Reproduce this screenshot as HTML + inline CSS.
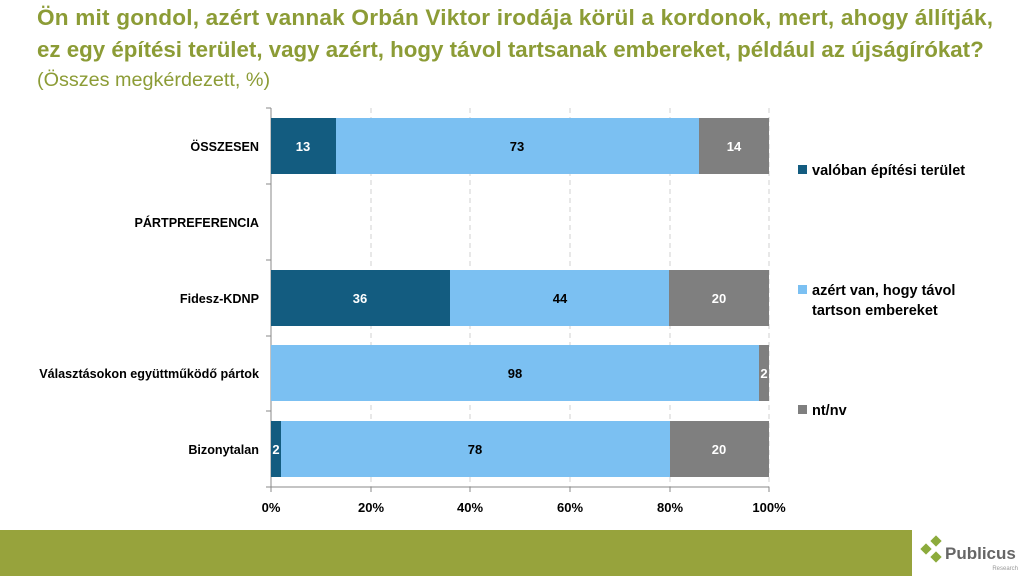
<!DOCTYPE html>
<html><head><meta charset="utf-8"><style>
body{margin:0;width:1024px;height:576px;background:#fff;overflow:hidden;position:relative;font-family:"Liberation Sans",Calibri,sans-serif}
.t{position:absolute;left:37px;color:#8c9c36;font-weight:bold;font-size:22.6px;white-space:nowrap}
</style></head><body>
<div class="t" style="top:5px;letter-spacing:0.2px">Ön mit gondol, azért vannak Orbán Viktor irodája körül a kordonok, mert, ahogy állítják,</div>
<div class="t" style="top:37px;font-size:22.3px">ez egy építési terület, vagy azért, hogy távol tartsanak embereket, például az újságírókat?</div>
<div class="t" style="top:69px;font-weight:normal;font-size:19.8px">(Összes megkérdezett, %)</div>
<svg width="1024" height="576" style="position:absolute;left:0;top:0" font-family="Liberation Sans, sans-serif">
<g stroke="#d0d0d0" stroke-dasharray="5,4"><line x1="371" y1="108" x2="371" y2="487"/><line x1="470" y1="108" x2="470" y2="487"/><line x1="570" y1="108" x2="570" y2="487"/><line x1="670" y1="108" x2="670" y2="487"/><line x1="769" y1="108" x2="769" y2="487"/></g>
<g stroke="#888"><line x1="271" y1="108" x2="271" y2="487"/><line x1="271" y1="487" x2="769" y2="487"/>
<line x1="266" y1="108" x2="271" y2="108"/><line x1="266" y1="184" x2="271" y2="184"/><line x1="266" y1="260" x2="271" y2="260"/><line x1="266" y1="336" x2="271" y2="336"/><line x1="266" y1="411" x2="271" y2="411"/><line x1="266" y1="487" x2="271" y2="487"/>
<line x1="271" y1="487" x2="271" y2="492"/><line x1="371" y1="487" x2="371" y2="492"/><line x1="470" y1="487" x2="470" y2="492"/><line x1="570" y1="487" x2="570" y2="492"/><line x1="670" y1="487" x2="670" y2="492"/><line x1="769" y1="487" x2="769" y2="492"/></g>
<g>
<rect x="271" y="118" width="65" height="56" fill="#135c80"/><rect x="336" y="118" width="363" height="56" fill="#7bc0f2"/><rect x="699" y="118" width="70" height="56" fill="#7f7f7f"/>
<rect x="271" y="270" width="179" height="56" fill="#135c80"/><rect x="450" y="270" width="219" height="56" fill="#7bc0f2"/><rect x="669" y="270" width="100" height="56" fill="#7f7f7f"/>
<rect x="271" y="345" width="488" height="56" fill="#7bc0f2"/><rect x="759" y="345" width="10" height="56" fill="#7f7f7f"/>
<rect x="271" y="421" width="10" height="56" fill="#135c80"/><rect x="281" y="421" width="389" height="56" fill="#7bc0f2"/><rect x="670" y="421" width="99" height="56" fill="#7f7f7f"/>
</g>
<g font-size="13" font-weight="bold" text-anchor="middle">
<text x="303" y="151" fill="#fff">13</text><text x="517" y="151">73</text><text x="734" y="151" fill="#fff">14</text>
<text x="360" y="303" fill="#fff">36</text><text x="560" y="303">44</text><text x="719" y="303" fill="#fff">20</text>
<text x="515" y="378">98</text><text x="764" y="378" fill="#fff">2</text>
<text x="276" y="454" fill="#fff">2</text><text x="475" y="454">78</text><text x="719" y="454" fill="#fff">20</text>
</g>
<g font-size="12.6" font-weight="bold" text-anchor="end">
<text x="259" y="151">ÖSSZESEN</text><text x="259" y="227">PÁRTPREFERENCIA</text><text x="259" y="303">Fidesz-KDNP</text><text x="259" y="378">Választásokon együttműködő pártok</text><text x="259" y="454">Bizonytalan</text>
</g>
<g font-size="13" font-weight="bold" text-anchor="middle">
<text x="271" y="512">0%</text><text x="371" y="512">20%</text><text x="470" y="512">40%</text><text x="570" y="512">60%</text><text x="670" y="512">80%</text><text x="769" y="512">100%</text>
</g>
<rect x="798" y="165" width="9" height="9" fill="#135c80"/><rect x="798" y="285" width="9" height="9" fill="#7bc0f2"/><rect x="798" y="405" width="9" height="9" fill="#7f7f7f"/>
<g font-size="14.5" font-weight="bold"><text x="812" y="175">valóban építési terület</text><text x="812" y="295">azért van, hogy távol</text><text x="812" y="315">tartson embereket</text><text x="812" y="415">nt/nv</text></g>
<rect x="0" y="530" width="912" height="46" fill="#97a33c"/>
<g fill="#8cab3c"><rect x="922" y="545" width="8" height="8" transform="rotate(45 926 549)"/><rect x="932" y="537" width="8" height="8" transform="rotate(45 936 541)"/><rect x="932" y="553" width="8" height="8" transform="rotate(45 936 557)"/></g>
<text x="945" y="559" font-size="17" font-weight="bold" fill="#666">Publicus</text>
<text x="1018" y="570" font-size="6" fill="#999" text-anchor="end">Research</text>
</svg>
</body></html>
